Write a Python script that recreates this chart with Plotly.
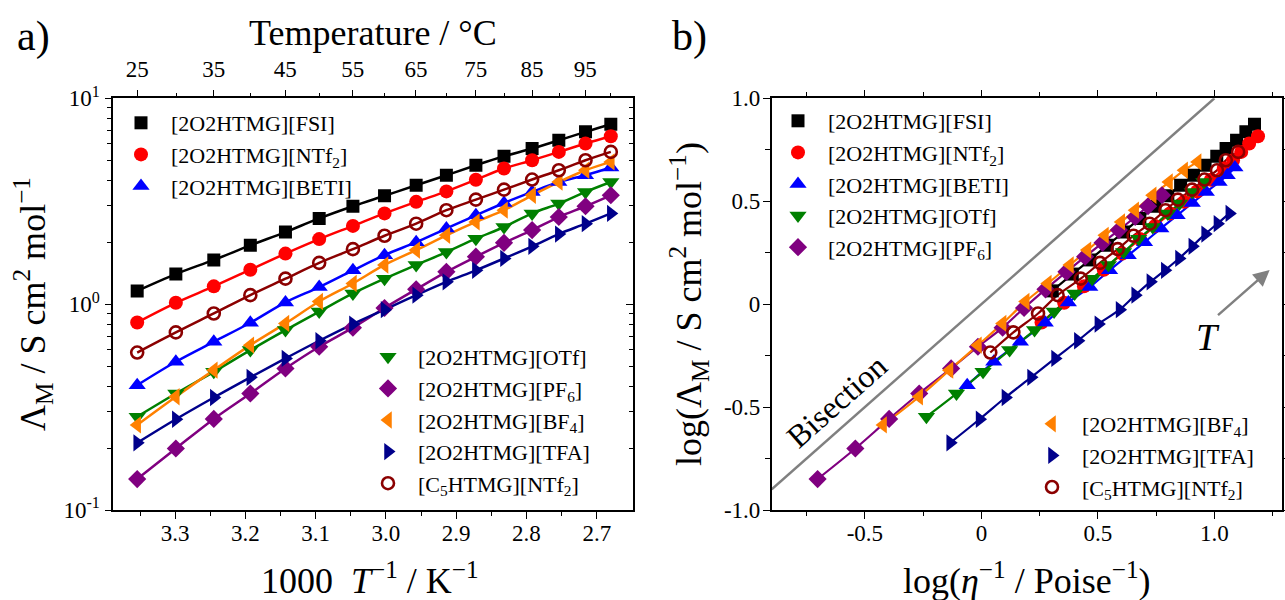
import numpy as np
import plotly.graph_objects as go

# ---------------- data ----------------
temps_C = [25, 30, 35, 40, 45, 50, 55, 60, 65, 70, 75, 80, 85, 90, 95, 100]
inv_T = [3.354, 3.299, 3.245, 3.193, 3.143, 3.095, 3.047, 3.002,
         2.957, 2.914, 2.872, 2.832, 2.792, 2.754, 2.716, 2.680]

names = ["[2O2HTMG][FSI]", "[2O2HTMG][NTf<sub>2</sub>]", "[2O2HTMG][BETI]",
         "[2O2HTMG][OTf]", "[2O2HTMG][PF<sub>6</sub>]", "[2O2HTMG][BF<sub>4</sub>]",
         "[2O2HTMG][TFA]", "[C<sub>5</sub>HTMG][NTf<sub>2</sub>]"]

# molar conductivity  (S cm2 mol-1)
lam_FSI  = [1.16, 1.40, 1.64, 1.93, 2.24, 2.61, 2.99, 3.36, 3.78, 4.23, 4.73, 5.23, 5.70, 6.25, 6.87, 7.48]
lam_NTf2 = [0.815, 1.015, 1.22, 1.47, 1.76, 2.07, 2.40, 2.76, 3.14, 3.53, 4.02, 4.56, 5.00, 5.49, 6.03, 6.54]
lam_BETI = [0.404, 0.525, 0.656, 0.812, 1.02, 1.21, 1.46, 1.73, 2.00, 2.33, 2.70, 3.10, 3.51, 3.92, 4.23, 4.61]
lam_OTf  = [0.284, 0.368, 0.469, 0.598, 0.748, 0.92, 1.127, 1.33, 1.55, 1.79, 2.08, 2.37, 2.76, 3.08, 3.51, 3.92]
lam_PF6  = [0.1414, 0.199, 0.277, 0.368, 0.487, 0.621, 0.769, 0.958, 1.18, 1.435, 1.70, 1.985, 2.29, 2.65, 2.99, 3.38]
lam_BF4  = [0.259, 0.355, 0.478, 0.632, 0.806, 1.03, 1.26, 1.55, 1.83, 2.16, 2.51, 2.86, 3.38, 3.92, 4.47, 4.91]
lam_TFA  = [0.212, 0.276, 0.352, 0.441, 0.545, 0.664, 0.80, 0.94, 1.106, 1.283, 1.46, 1.667, 1.91, 2.19, 2.46, 2.76]
lam_C5   = [0.582, 0.729, 0.901, 1.106, 1.33, 1.587, 1.85, 2.15, 2.46, 2.86, 3.22, 3.60, 4.03, 4.47, 5.00, 5.49]

# log(1/eta / Poise^-1)
fl_FSI  = [0.304, 0.39, 0.465, 0.54, 0.61, 0.68, 0.745, 0.80, 0.855, 0.91, 0.96, 1.01, 1.05, 1.095, 1.135, 1.172]
fl_NTf2 = [0.258, 0.355, 0.44, 0.525, 0.605, 0.68, 0.745, 0.81, 0.87, 0.925, 0.985, 1.04, 1.08, 1.115, 1.149, 1.187]
fl_BETI = [-0.061, 0.053, 0.167, 0.274, 0.373, 0.465, 0.55, 0.63, 0.70, 0.77, 0.84, 0.905, 0.965, 1.02, 1.055, 1.088]
fl_OTf  = [-0.236, -0.107, 0.007, 0.121, 0.228, 0.312, 0.40, 0.475, 0.545, 0.61, 0.675, 0.735, 0.80, 0.85, 0.905, 0.955]
fl_PF6  = [-0.703, -0.541, -0.396, -0.267, -0.130, -0.015, 0.091, 0.183, 0.275, 0.365, 0.445, 0.52, 0.59, 0.66, 0.715, 0.775]
fl_BF4  = [-0.422, -0.267, -0.137, -0.015, 0.091, 0.19, 0.285, 0.38, 0.455, 0.53, 0.60, 0.66, 0.735, 0.805, 0.87, 0.928]
fl_TFA  = [-0.134, -0.008, 0.103, 0.213, 0.316, 0.414, 0.502, 0.593, 0.66, 0.725, 0.787, 0.848, 0.905, 0.96, 1.013, 1.064]
fl_C5   = [0.038, 0.137, 0.243, 0.327, 0.426, 0.509, 0.585, 0.653, 0.722, 0.790, 0.843, 0.904, 0.957, 1.011, 1.049, 1.102]

top_ticks_C = [25, 35, 45, 55, 65, 75, 85, 95]
top_minor_C = [30, 40, 50, 60, 70, 80, 90, 100]
bisection_x = [-0.9, 1.0]

lams = [lam_FSI, lam_NTf2, lam_BETI, lam_OTf, lam_PF6, lam_BF4, lam_TFA, lam_C5]
fls = [fl_FSI, fl_NTf2, fl_BETI, fl_OTf, fl_PF6, fl_BF4, fl_TFA, fl_C5]

# ---------------- styles ----------------
colors = ["#000000", "#ff0000", "#0000ff", "#008000", "#800080", "#ff8000", "#00008b", "#8b0000"]
symbols = ["square", "circle", "triangle-up", "triangle-down", "diamond",
           "triangle-left", "triangle-right", "circle-open"]
sizes = [13, 14, 15, 15, 14, 15, 15, 12]
legend_a = ["legend", "legend", "legend", "legend2", "legend2", "legend2", "legend2", "legend2"]
legend_b = ["legend3", "legend3", "legend3", "legend3", "legend3", "legend4", "legend4", "legend4"]

SERIF = "Liberation Serif, DejaVu Serif, Times New Roman, serif"
W, H = 1285, 600
def px(x): return x / W
def py(y): return 1 - y / H

fig = go.Figure()

def marker_dict(i):
    if symbols[i] == "circle-open":
        return dict(symbol=symbols[i], size=sizes[i], color=colors[i], line=dict(width=2.6, color=colors[i]))
    return dict(symbol=symbols[i], size=sizes[i], color=colors[i], line=dict(width=0))

draw_order = [7, 0, 1, 2, 3, 4, 5, 6]
# panel a
for i in draw_order:
    fig.add_trace(go.Scatter(x=inv_T, y=lams[i], mode="lines", line=dict(color=colors[i], width=2.5, shape="spline"),
                             xaxis="x", yaxis="y", showlegend=False, hoverinfo="skip"))
for i in range(8):
    fig.add_trace(go.Scatter(x=inv_T, y=lams[i], mode="markers", marker=marker_dict(i), name=names[i],
                             xaxis="x", yaxis="y", legend=legend_a[i]))

# panel b
fig.add_trace(go.Scatter(x=bisection_x, y=bisection_x, mode="lines", line=dict(color="#808080", width=2.5),
                         xaxis="x2", yaxis="y2", showlegend=False, hoverinfo="skip"))
for i in draw_order:
    fig.add_trace(go.Scatter(x=fls[i], y=np.log10(lams[i]), mode="lines",
                             line=dict(color=colors[i], width=2.2, shape="spline"),
                             xaxis="x2", yaxis="y2", showlegend=False, hoverinfo="skip"))
for i in range(8):
    fig.add_trace(go.Scatter(x=fls[i], y=np.log10(lams[i]), mode="markers", marker=marker_dict(i), name=names[i],
                             xaxis="x2", yaxis="y2", legend=legend_b[i]))

# dummy traces for overlay axes
fig.add_trace(go.Scatter(x=[inv_T[0]], y=[1], mode="markers", marker=dict(opacity=0), xaxis="x3", yaxis="y",
                         showlegend=False, hoverinfo="skip"))
fig.add_trace(go.Scatter(x=[inv_T[0]], y=[1], mode="markers", marker=dict(opacity=0), xaxis="x", yaxis="y3",
                         showlegend=False, hoverinfo="skip"))

tickfont = dict(family=SERIF, size=23, color="black")
axcommon = dict(showgrid=False, zeroline=False, linecolor="black", linewidth=1.6, tickcolor="black",
                tickwidth=1.4, ticklen=7, tickfont=tickfont, automargin=False)

xa_dom = [px(113.3), px(633.3)]
xb_dom = [px(771.7), px(1282)]
y_dom = [py(510), py(98.3)]
xa_range = [3.388, 2.648]

top_pos = [1000 / (t + 273.15) for t in top_ticks_C]
top_minor_pos = [1000 / (t + 273.15) for t in top_minor_C]
minor_style = dict(ticklen=4.5, tickwidth=1.4, tickcolor="black")

fig.update_layout(
    width=W, height=H, margin=dict(l=0, r=0, t=0, b=0, autoexpand=False),
    paper_bgcolor="white", plot_bgcolor="white",
    font=dict(family=SERIF, size=22, color="black"),
    xaxis=dict(domain=xa_dom, range=xa_range, anchor="y", showline=True, mirror=True, ticks="outside",
               tickmode="array", tickvals=[3.3, 3.2, 3.1, 3.0, 2.9, 2.8, 2.7],
               ticktext=["3.3", "3.2", "3.1", "3.0", "2.9", "2.8", "2.7"], ticklabelstandoff=-5,
               minor=dict(tickmode="array", tickvals=[3.35, 3.25, 3.15, 3.05, 2.95, 2.85, 2.75],
                          ticks="outside", **minor_style),
               **axcommon),
    xaxis3=dict(overlaying="x", side="top", anchor="y", range=xa_range, showline=False, ticks="outside",
                tickmode="array", tickvals=top_pos, ticktext=[str(t) for t in top_ticks_C], ticklabelstandoff=4,
                minor=dict(tickmode="array", tickvals=top_minor_pos, ticks="outside", **minor_style),
                **axcommon),
    yaxis=dict(domain=y_dom, type="log", range=[-1, 1], anchor="x", showline=True, mirror=True, ticks="outside",
               tickmode="array", tickvals=[0.1, 1, 10],
               ticktext=["10<sup>-1</sup>", "10<sup>0</sup>", "10<sup>1</sup>"], ticklabelstandoff=0,
               minor=dict(tickmode="array", tickvals=[0.2, 0.3, 0.4, 0.5, 0.6, 0.7, 0.8, 0.9, 2, 3, 4, 5, 6, 7, 8, 9],
                          ticks="outside", **minor_style),
               **axcommon),
    yaxis3=dict(overlaying="y", side="right", anchor="x", type="log", range=[-1, 1], showline=False,
                ticks="inside", tickmode="array", tickvals=[0.1, 1, 10], showticklabels=False,
                minor=dict(tickmode="array", tickvals=[0.2, 0.3, 0.4, 0.5, 0.6, 0.7, 0.8, 0.9, 2, 3, 4, 5, 6, 7, 8, 9],
                           ticks="inside", **minor_style),
                **axcommon),
    xaxis2=dict(domain=xb_dom, range=[-0.9, 1.29], anchor="y2", showline=True, mirror="ticks", ticks="outside",
                tickmode="array", tickvals=[-0.5, 0, 0.5, 1.0], ticktext=["-0.5", "0", "0.5", "1.0"],
                ticklabelstandoff=-5,
                minor=dict(tickmode="array", tickvals=[-0.75, -0.25, 0.25, 0.75, 1.25], ticks="outside",
                           **minor_style),
                **axcommon),
    yaxis2=dict(domain=y_dom, range=[-1, 1], anchor="x2", showline=True, mirror="ticks", ticks="outside",
                tickmode="array", tickvals=[-1, -0.5, 0, 0.5, 1.0], ticktext=["-1.0", "-0.5", "0", "0.5", "1.0"],
                ticklabelstandoff=-2,
                minor=dict(tickmode="array", tickvals=[-0.75, -0.25, 0.25, 0.75], ticks="outside",
                           **minor_style),
                **axcommon),
)

legfont = dict(family=SERIF, size=22, color="black")
legcommon = dict(font=legfont, bgcolor="rgba(0,0,0,0)", borderwidth=0, itemwidth=50,
                 xanchor="left", yanchor="top", tracegroupgap=0, traceorder="normal", itemclick=False)
fig.update_layout(
    legend=dict(x=px(111), y=py(102), **legcommon),
    legend2=dict(x=px(358), y=py(336), **legcommon),
    legend3=dict(x=px(768), y=py(100), **legcommon),
    legend4=dict(x=px(1022), y=py(403), **legcommon),
)

title_font = dict(family=SERIF, size=36, color="black")
ann = [
    dict(text="a)", x=px(33), y=py(36), font=dict(family=SERIF, size=42, color="black")),
    dict(text="b)", x=px(689), y=py(36), font=dict(family=SERIF, size=42, color="black")),
    dict(text="Temperature / °C", x=px(373), y=py(33), font=title_font),
    dict(text="1000  <i>T</i><sup>−1</sup> / K<sup>−1</sup>", x=px(370), y=py(578), font=title_font),
    dict(text="Λ<sub>M</sub> / S cm<sup>2</sup> mol<sup>−1</sup>", x=px(33), y=py(304), textangle=-90,
         font=title_font),
    dict(text="log(<i>η</i><sup>−1</sup> / Poise<sup>−1</sup>)", x=px(1027), y=py(578), font=title_font),
    dict(text="log(Λ<sub>M</sub> / S cm<sup>2</sup> mol<sup>−1</sup>)", x=px(689), y=py(304), textangle=-90,
         font=title_font),
]
for a in ann:
    a.update(xref="paper", yref="paper", showarrow=False, xanchor="center", yanchor="middle")
    fig.add_annotation(**a)

fig.add_annotation(text="Bisection", x=-0.621, y=-0.469, xref="x2", yref="y2", showarrow=False,
                   textangle=-41.5, font=dict(family=SERIF, size=32, color="black"))
fig.add_annotation(text="<i>T</i>", x=0.971, y=-0.159, xref="x2", yref="y2", showarrow=False,
                   font=dict(family=SERIF, size=38, color="black"))
fig.add_annotation(text="", x=1.237, y=0.1665, ax=1.009, ay=-0.06, xref="x2", yref="y2",
                   axref="x2", ayref="y2", showarrow=True, arrowhead=2, arrowsize=1.3, arrowwidth=2.5,
                   arrowcolor="#808080")

fig.write_html("out.html", config={"displayModeBar": False},
               post_script="document.body.style.margin='0px';document.body.style.overflow='hidden';")
